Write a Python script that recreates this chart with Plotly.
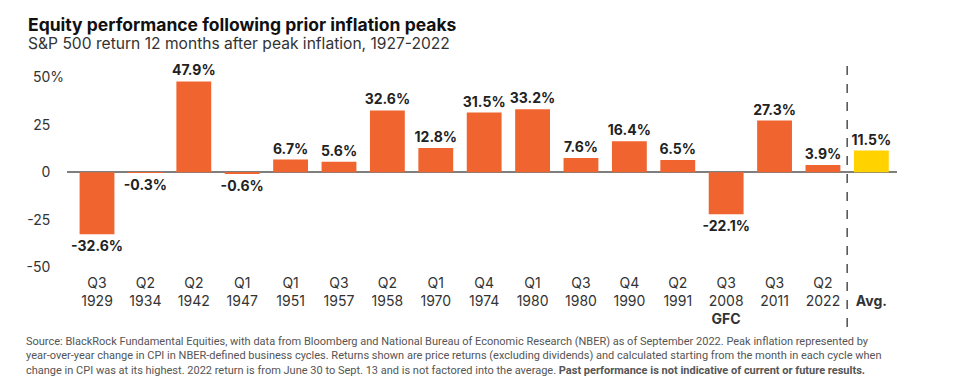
import plotly.graph_objects as go

quarters = ["Q3", "Q2", "Q2", "Q1", "Q1", "Q3", "Q2", "Q1", "Q4", "Q1", "Q3", "Q4", "Q2", "Q3", "Q3", "Q2", ""]
years = ["1929", "1934", "1942", "1947", "1951", "1957", "1958", "1970", "1974", "1980", "1980", "1990", "1991", "2008", "2011", "2022", "Avg."]
notes = ["", "", "", "", "", "", "", "", "", "", "", "", "", "GFC", "", "", ""]
returns = [-32.6, -0.3, 47.9, -0.6, 6.7, 5.6, 32.6, 12.8, 31.5, 33.2, 7.6, 16.4, 6.5, -22.1, 27.3, 3.9, 11.5]
ytick_vals = [-50, -25, 0, 25, 50]
ytick_text = ["-50", "-25", "0", "25", "50%"]

ORANGE = "#F0652F"
YELLOW = "#FFD200"
FONT = "Inter"

x = list(range(len(returns)))
colors = [YELLOW if y == "Avg." else ORANGE for y in years]
labels = [f"{v:.1f}%" for v in returns]

ticktext = []
for q, y, n in zip(quarters, years, notes):
    if y == "Avg.":
        ticktext.append(" <br><b>Avg.</b>")
    elif n:
        ticktext.append(f"{q}<br>{y}<br><b>{n}</b>")
    else:
        ticktext.append(f"{q}<br>{y}")

hidden = "<span style='color:rgba(0,0,0,0)'>%</span>"
ytext = [t if t.endswith("%") else t + hidden for t in ytick_text]

PW, PH = 830, 207  # plot area size in px

fig = go.Figure()
fig.add_trace(go.Bar(
    x=x, y=returns, marker=dict(color=colors, line=dict(width=0)),
    text=labels, textposition="outside", cliponaxis=False, constraintext="none",
    textfont=dict(family=FONT, size=14, color="#222222", weight="bold"),
    width=0.72,
))

sep = len(returns) - 1.5
fig.add_shape(type="line", xref="x", yref="paper", x0=sep, x1=sep, y0=1.0, y1=-0.27,
              line=dict(color="#333333", width=1.3, dash="dash"))

fig.add_annotation(xref="paper", yref="paper", x=-41/PW, y=1 + (66 - 24) / PH,
                   xanchor="left", yanchor="middle", showarrow=False,
                   text="<b>Equity performance following prior inflation peaks</b>",
                   font=dict(family=FONT, size=17.5, color="#111111"))
fig.add_annotation(xref="paper", yref="paper", x=-41/PW, y=1 + (66 - 44) / PH,
                   xanchor="left", yanchor="middle", showarrow=False,
                   text="S&P 500 return 12 months after peak inflation, 1927-2022",
                   font=dict(family=FONT, size=15.6, color="#333333"))

foot = ("Source: BlackRock Fundamental Equities, with data from Bloomberg and National Bureau of Economic Research (NBER) as of September 2022. Peak inflation represented by<br>"
        "year-over-year change in CPI in NBER-defined business cycles. Returns shown are price returns (excluding dividends) and calculated starting from the month in each cycle when<br>"
        "change in CPI was at its highest. 2022 return is from June 30 to Sept. 13 and is not factored into the average. <b>Past performance is not indicative of current or future results.</b>")
fig.add_annotation(xref="paper", yref="paper", x=-43/PW, y=-(333 - 273) / PH,
                   xanchor="left", yanchor="top", showarrow=False, align="left",
                   text=foot,
                   font=dict(family="Roboto", size=11, color="#555555"))

fig.update_layout(
    width=949, height=377,
    margin=dict(l=59, r=60, t=58, b=112),
    plot_bgcolor="white", paper_bgcolor="white",
    showlegend=False,
    xaxis=dict(range=[-0.62, len(returns) - 0.47], tickmode="array", tickvals=x, ticktext=ticktext,
               showgrid=False, zeroline=False, showline=False, ticks="",
               tickfont=dict(family=FONT, size=14, color="#333333")),
    yaxis=dict(range=[-53, 56], tickmode="array", tickvals=ytick_vals, ticktext=ytext,
               showgrid=False, zeroline=True, zerolinecolor="#7f7f7f", zerolinewidth=2,
               showline=False, ticks="", ticklabelstandoff=2,
               tickfont=dict(family=FONT, size=14, color="#333333")),
)

fig.write_html("out.html")
